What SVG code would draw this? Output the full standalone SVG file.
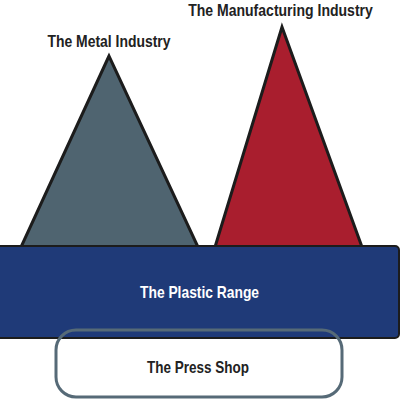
<svg xmlns="http://www.w3.org/2000/svg" width="400" height="400" viewBox="0 0 400 400">
<style>
.lbl{font-family:"Liberation Sans",Arial,sans-serif;font-weight:bold;font-size:17px;text-anchor:middle}
.tri{stroke:#1c1c1c;stroke-width:3;stroke-linejoin:miter}
</style>
<rect width="400" height="400" fill="#ffffff"/>
<g id="metal">
<polygon class="tri" points="109,56 21,247 198,247" fill="#4f6470"/>
<text class="lbl" x="109" y="47" fill="#222" textLength="123" lengthAdjust="spacingAndGlyphs">The Metal Industry</text>
</g>
<g id="manufacturing">
<polygon class="tri" points="282,27 215,247 362,247" fill="#a91e2e"/>
<text class="lbl" transform="translate(280.5,16) scale(0.825,1)" x="0" y="0" font-size="16" fill="#222">The Manufacturing Industry</text>
</g>
<g id="plastic">
<rect x="-3" y="246" width="402" height="92" rx="4" fill="#1f3a78" stroke="#1c1c1c" stroke-width="2"/>
<text class="lbl" x="199.5" y="298" fill="#ffffff" textLength="119" lengthAdjust="spacingAndGlyphs">The Plastic Range</text>
</g>
<g id="pressshop">
<rect x="56" y="330" width="286" height="67" rx="20" fill="none" stroke="#566a77" stroke-width="3"/>
<text class="lbl" x="198" y="373" fill="#222" textLength="102" lengthAdjust="spacingAndGlyphs">The Press Shop</text>
</g>
<g id="connectors"></g>
</svg>
